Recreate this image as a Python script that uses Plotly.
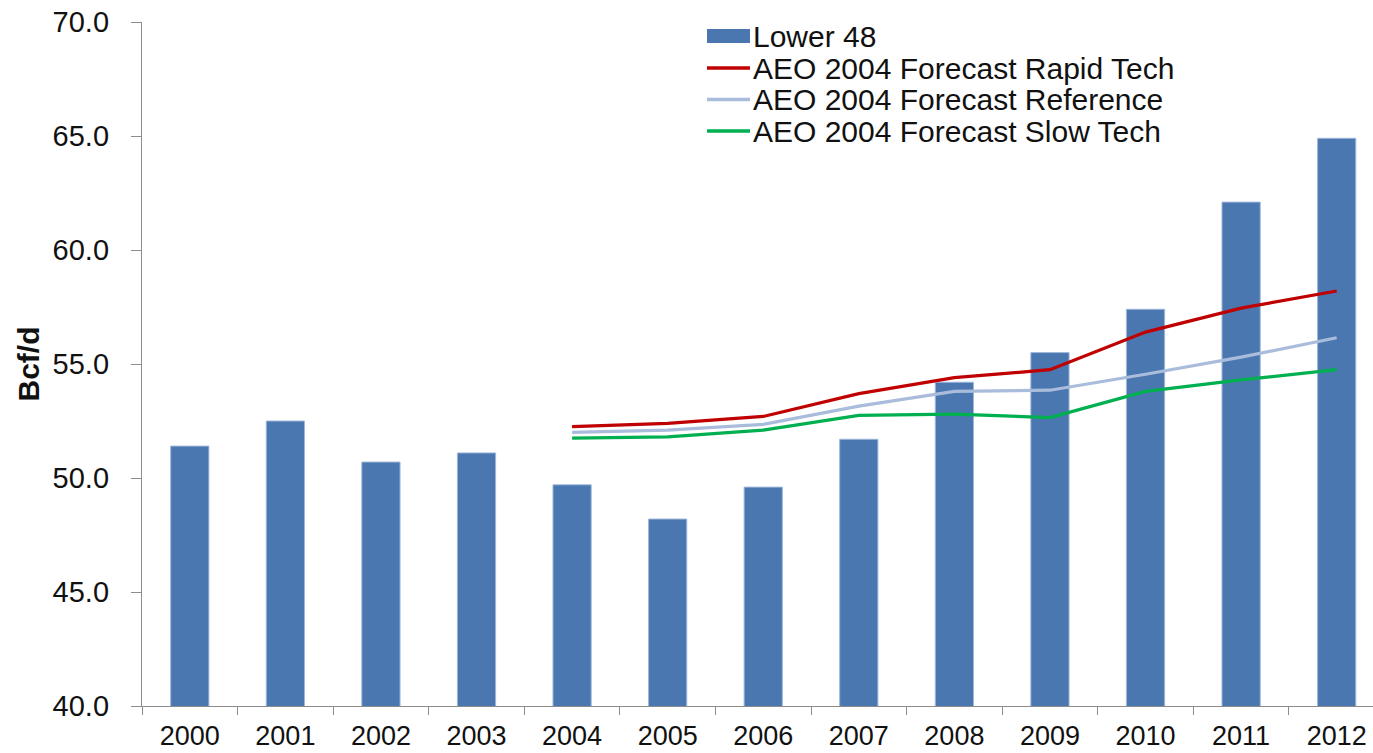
import plotly.graph_objects as go

# Lower 48 dry gas production (Bcf/d) and AEO 2004 forecast cases
years = ["2000", "2001", "2002", "2003", "2004", "2005", "2006",
         "2007", "2008", "2009", "2010", "2011", "2012"]
lower48 = [51.4, 52.5, 50.7, 51.1, 49.7, 48.2, 49.6, 51.7, 54.2, 55.5, 57.4, 62.1, 64.9]

forecast_years = ["2004", "2005", "2006", "2007", "2008", "2009", "2010", "2011", "2012"]
rapid_tech = [52.25, 52.4, 52.7, 53.7, 54.4, 54.75, 56.4, 57.45, 58.2]
reference = [52.0, 52.1, 52.35, 53.15, 53.8, 53.85, 54.55, 55.3, 56.15]
slow_tech = [51.75, 51.8, 52.1, 52.75, 52.8, 52.65, 53.8, 54.3, 54.75]

series_names = ["Lower 48", "AEO 2004 Forecast Rapid Tech",
                "AEO 2004 Forecast Reference", "AEO 2004 Forecast Slow Tech"]

BAR = "#4A77B0"
RED = "#C00000"
REF = "#A9BCDC"
GREEN = "#00B050"
AXIS = "#8C8C8C"
FONT = "Arial, Liberation Sans, sans-serif"

W, H = 1373, 753
L, R, T, B = 142, 0, 22, 47

fig = go.Figure()
fig.add_trace(go.Bar(x=years, y=lower48, name=series_names[0], width=0.4,
                     marker=dict(color=BAR, line=dict(color="#9FB8DA", width=1))))
for vals, name, col in [(rapid_tech, series_names[1], RED),
                        (reference, series_names[2], REF),
                        (slow_tech, series_names[3], GREEN)]:
    fig.add_trace(go.Scatter(x=forecast_years, y=vals, name=name, mode="lines",
                             line=dict(color=col, width=3.2)))

# legend drawn as shapes + text, laid out in pixel space
pw, ph = W - L - R, H - T - B
def px(x):
    return (x - L) / pw
def py(y):
    return (H - B - y) / ph

sym_x0, sym_x1, text_x = 707, 750, 751
rows = [36, 68, 99.5, 131]
fig.add_shape(type="rect", xref="paper", yref="paper",
              x0=px(sym_x0), x1=px(sym_x1), y0=py(rows[0] + 7), y1=py(rows[0] - 7),
              fillcolor=BAR, line=dict(width=0))
for yy, col in zip(rows[1:], [RED, REF, GREEN]):
    fig.add_shape(type="line", xref="paper", yref="paper",
                  x0=px(sym_x0), x1=px(sym_x1), y0=py(yy), y1=py(yy),
                  line=dict(color=col, width=3.5))
for yy, name in zip(rows, series_names):
    fig.add_annotation(xref="paper", yref="paper", x=px(text_x), y=py(yy),
                       xanchor="left", yanchor="middle", text=name, showarrow=False,
                       font=dict(family=FONT, size=30, color="#111111"))

fig.update_layout(
    width=W, height=H,
    margin=dict(l=L, r=R, t=T, b=B, pad=0, autoexpand=False),
    paper_bgcolor="white", plot_bgcolor="white",
    showlegend=False,
    font=dict(family=FONT, color="#111111"),
    xaxis=dict(type="category", range=[-0.5, 12.38], tickson="boundaries",
               ticks="outside", ticklen=8, tickcolor=AXIS, tickwidth=1.3,
               showline=True, linecolor=AXIS, linewidth=1.3, showgrid=False,
               tickfont=dict(family=FONT, size=27, color="#111111"),
               ticklabelstandoff=5, zeroline=False, automargin=False),
    yaxis=dict(range=[40, 70], dtick=5, tick0=40, tickformat=".1f",
               ticks="outside", ticklen=10, tickcolor=AXIS, tickwidth=1.3,
               showline=True, linecolor=AXIS, linewidth=1.3, showgrid=False,
               zeroline=False, ticklabelstandoff=16, automargin=False,
               tickfont=dict(family=FONT, size=29, color="#111111"),
               title=dict(text="<b>Bcf/d</b>", standoff=4,
                          font=dict(family=FONT, size=30, color="#111111"))),
)

fig.write_html("out.html")
